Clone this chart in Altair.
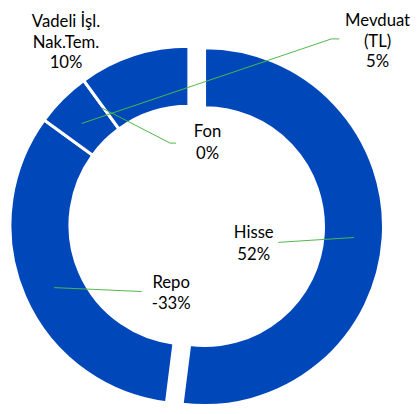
import math
import altair as alt
import pandas as pd

# ---- data ----
names = ["Hisse", "Repo", "Mevduat\n(TL)", "Fon", "Vadeli İşl.\nNak.Tem."]
values = [52, -33, 5, 0, 10]

# ---- derived table ----
total = sum(abs(v) for v in values)
rows = []
acc = 0.0
for n, v in zip(names, values):
    share = abs(v) / total * 2 * math.pi
    rows.append({"name": n, "value": v, "start": acc, "end": acc + share,
                 "label": f"{n}\n{v}%"})
    acc += share
df = pd.DataFrame(rows)

BLUE = "#0048BA"
GREEN = "#4DB848"
FONT = "Lato"

# layout (chart coords)
CX, CY = 184, 217.5
EXPLODE_DX, EXPLODE_DY = 16, 1.5
R_OUT, R_IN = 182, 121

base = alt.Chart(df)

ring = base.mark_arc(radius=R_OUT, radius2=R_IN, stroke="white", strokeWidth=3,
                     color=BLUE).encode(
    theta=alt.Theta("start:Q", scale=None),
    theta2="end:Q",
    x=alt.value(CX), y=alt.value(CY),
).transform_filter(alt.datum.name != "Hisse")

hisse = base.mark_arc(radius=R_OUT, radius2=R_IN, stroke="white", strokeWidth=3,
                      color=BLUE).encode(
    theta=alt.Theta("start:Q", scale=None),
    theta2="end:Q",
    x=alt.value(CX + EXPLODE_DX), y=alt.value(CY + EXPLODE_DY),
).transform_filter(alt.datum.name == "Hisse")

# leader lines (layout only)
leaders = [
    (275, 235, 352, 230),
    (47, 281, 136, 285),
    (95, 98, 165, 134), (165, 134, 171, 134),
    (75, 114, 329, 28), (329, 28, 337, 28),
]
one = pd.DataFrame({"k": [0]})
rules = [
    alt.Chart(one).mark_rule(color=GREEN, strokeWidth=1).encode(
        x=alt.value(x1), y=alt.value(y1), x2=alt.value(x2), y2=alt.value(y2))
    for (x1, y1, x2, y2) in leaders
]

label_pos = {
    "Vadeli İşl.\nNak.Tem.": (59, 16),
    "Mevduat\n(TL)": (376, 15),
    "Fon": (203, 128),
    "Hisse": (250, 231),
    "Repo": (166, 281),
}
line_h = {"Vadeli İşl.\nNak.Tem.": 21, "Mevduat\n(TL)": 21}
texts = [
    base.mark_text(font=FONT, fontSize=17, color="#000000", align="center",
                   baseline="alphabetic", lineBreak="\n",
                   lineHeight=line_h.get(n, 22)).encode(
        text="label:N", x=alt.value(px), y=alt.value(py)
    ).transform_filter(alt.datum.name == n)
    for n, (px, py) in label_pos.items()
]

chart = alt.layer(ring, hisse, *rules, *texts).properties(
    width=410, height=398, padding=0,
    autosize=alt.AutoSizeParams(type="none"),
).configure_view(stroke=None)

chart.save("out.html", embed_options={"renderer": "svg", "actions": False})
